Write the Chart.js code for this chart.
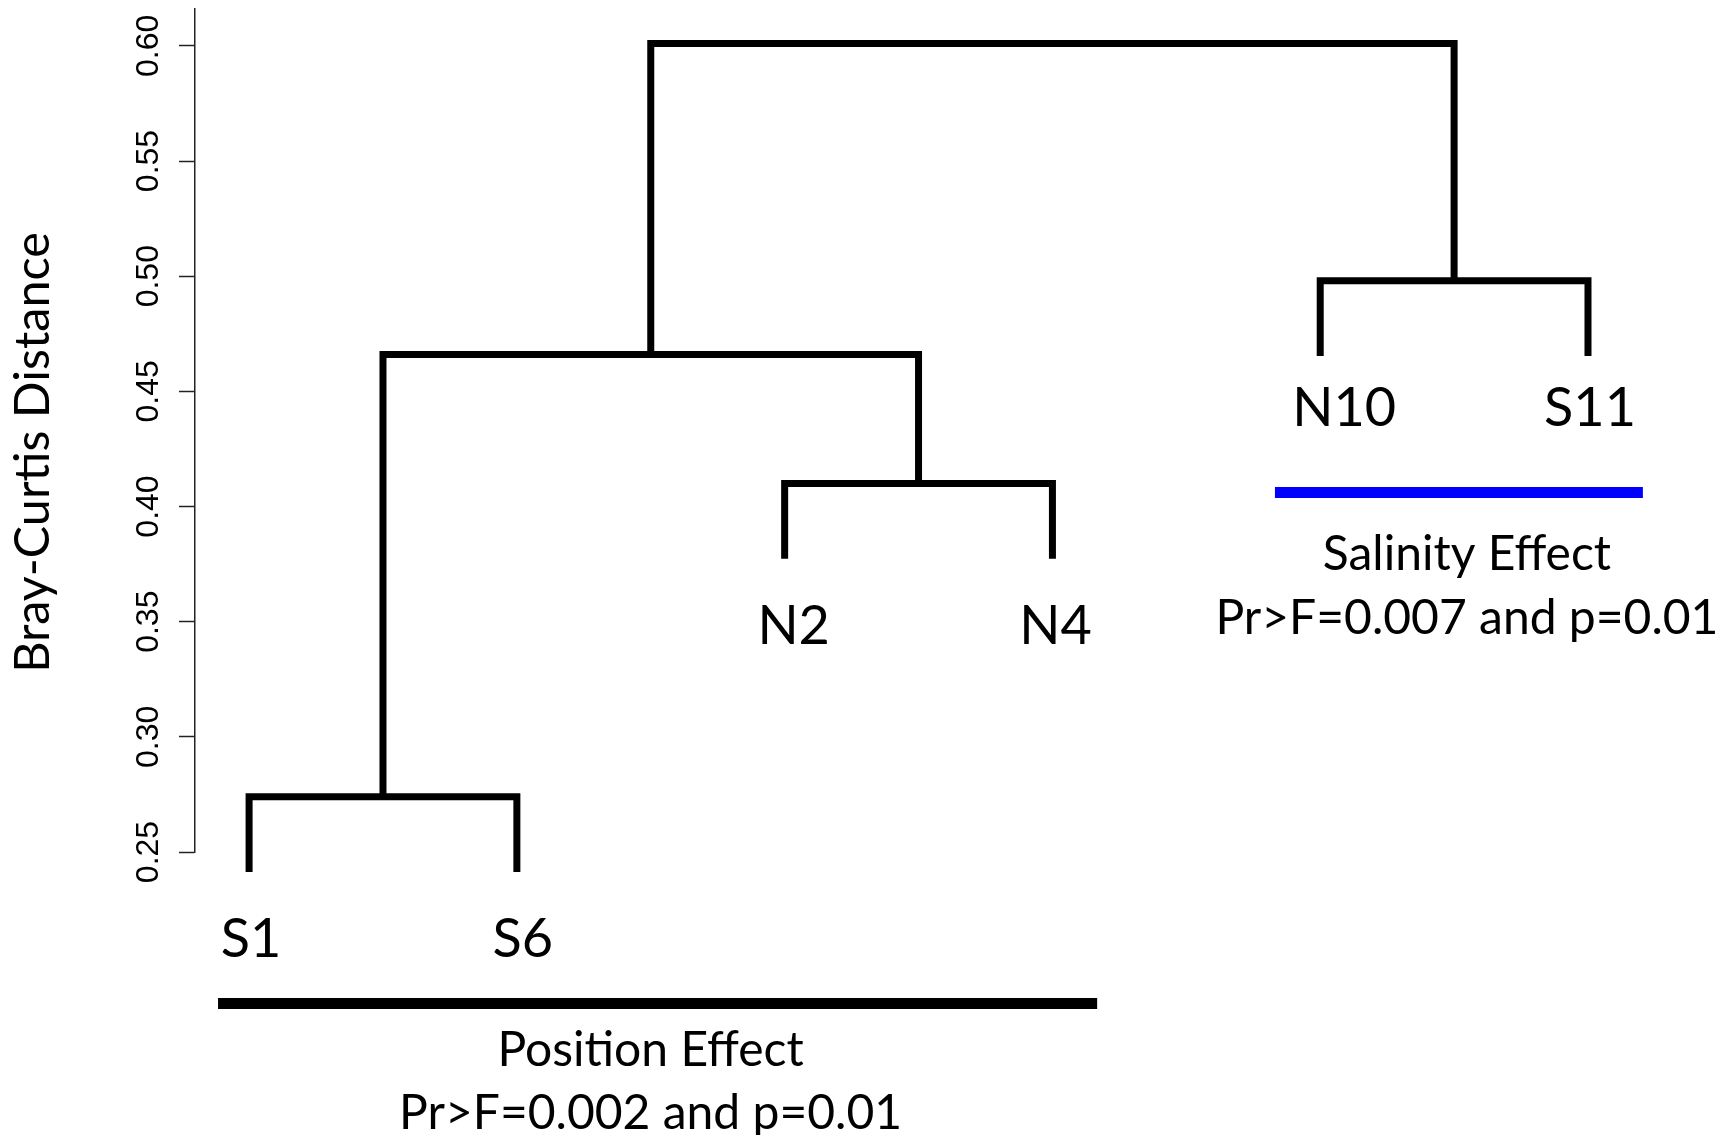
<!DOCTYPE html>
<html>
<head>
<meta charset="utf-8">
<title>Bray-Curtis dendrogram</title>
<script src="https://cdn.jsdelivr.net/npm/chart.js@4.4.1/dist/chart.umd.min.js"></script>
<style>
  html, body { margin: 0; padding: 0; background: #fff; }
  canvas { display: block; }
</style>
</head>
<body>
<canvas id="dendro" width="1735" height="1135"></canvas>
<script>
// leaves in plotting order, left to right
const leafLabels = ['S1', 'S6', 'N2', 'N4', 'N10', 'S11'];
// hclust style merge table: negative = leaf number, positive = earlier merge row
const mergePairs = [[-1, -2], [-3, -4], [-5, -6], [1, 2], [4, 3]];
const mergeHeights = [0.274, 0.410, 0.498, 0.466, 0.601];
const hang = 0.1; // plot.hclust default

const yTicks = [0.25, 0.30, 0.35, 0.40, 0.45, 0.50, 0.55, 0.60];

// groups marked under the tree
const effectNames = ['Position Effect', 'Salinity Effect'];
const effectStats = ['Pr>F=0.002 and p=0.01', 'Pr>F=0.007 and p=0.01'];
const effectFirst = ['S1', 'N10'];
const effectLast = ['N4', 'S11'];
const effectColors = ['#000000', '#0000ff'];

// ---- styling / placement (pixels unless noted)
const textFont = 'Lato, "Open Sans", sans-serif';
const effectLayout = [
    { padL: 0.116, padR: 0.167, drop: 0.0571, dx: -7, nameDy: 62, statDy: 63 },
    { padL: 0.169, padR: 0.205, drop: 0.0592, dx: 8, nameDy: 78, statDy: 64 }
];
const labelGap = 85;
const labelNudge = { S1: [2, 0], S6: [6, 0], N2: [9, 0], N4: [3, 0], N10: [24, -15], S11: [2, -15] };

// build the tree segments the way plot.hclust does
const hangDist = hang * (Math.max(...mergeHeights) - Math.min(...mergeHeights));
const nodeX = [];
const leafBottom = [];
const treeSets = [];
mergePairs.forEach((pair, i) => {
    let h = mergeHeights[i];
    let ends = pair.map(id => {
        if (id < 0) {
            leafBottom[-id - 1] = h - hangDist;
            return { x: -id, y: h - hangDist };
        }
        return { x: nodeX[id - 1], y: mergeHeights[id - 1] };
    });
    nodeX[i] = (ends[0].x + ends[1].x) / 2;
    treeSets.push({
        data: [ends[0], { x: ends[0].x, y: h }, { x: ends[1].x, y: h }, ends[1]],
        borderColor: '#000',
        borderWidth: 7,
        borderJoinStyle: 'miter',
        borderCapStyle: 'butt',
        pointRadius: 0,
        tension: 0,
        clip: false
    });
});

const barStart = [], barEnd = [], barLevel = [];
const barSets = effectNames.map((name, k) => {
    let a = leafLabels.indexOf(effectFirst[k]);
    let b = leafLabels.indexOf(effectLast[k]);
    let low = Math.min(...leafBottom.slice(a, b + 1));
    barStart[k] = a + 1 - effectLayout[k].padL;
    barEnd[k] = b + 1 + effectLayout[k].padR;
    barLevel[k] = low - effectLayout[k].drop;
    return {
        data: [{ x: barStart[k], y: barLevel[k] }, { x: barEnd[k], y: barLevel[k] }],
        borderColor: effectColors[k],
        borderWidth: 11,
        borderCapStyle: 'butt',
        pointRadius: 0,
        clip: false
    };
});

const annotate = {
    id: 'annotate',
    afterDatasetsDraw(chart) {
        let ctx = chart.ctx;
        let x = chart.scales.x, y = chart.scales.y;
        let area = chart.chartArea;
        ctx.save();
        ctx.fillStyle = '#000';
        ctx.textAlign = 'center';
        ctx.textBaseline = 'alphabetic';
        ctx.font = '54px ' + textFont;
        leafLabels.forEach((lab, i) => {
            let n = labelNudge[lab] || [0, 0];
            ctx.fillText(lab, x.getPixelForValue(i + 1) + n[0], y.getPixelForValue(leafBottom[i]) + labelGap + n[1]);
        });
        ctx.font = '48px ' + textFont;
        effectNames.forEach((name, k) => {
            let L = effectLayout[k];
            let cx = (x.getPixelForValue(barStart[k]) + x.getPixelForValue(barEnd[k])) / 2 + L.dx;
            let by = y.getPixelForValue(barLevel[k]);
            ctx.fillText(name, cx, by + L.nameDy);
            ctx.fillText(effectStats[k], cx, by + L.nameDy + L.statDy);
        });
        // y axis title
        ctx.font = '48.5px ' + textFont;
        ctx.translate(33, (area.top + area.bottom) / 2 + 22);
        ctx.rotate(-Math.PI / 2);
        ctx.textBaseline = 'middle';
        ctx.fillText('Bray-Curtis Distance', 0, 0);
        ctx.restore();
    }
};

function draw() {
    new Chart(document.getElementById('dendro'), {
        type: 'line',
        data: { datasets: [...treeSets, ...barSets] },
        options: {
            responsive: false,
            animation: false,
            events: [],
            layout: { padding: { top: 9, bottom: 283, left: 0, right: 0 } },
            plugins: { legend: { display: false }, tooltip: { enabled: false } },
            scales: {
                x: { type: 'linear', display: false, min: 0.798, max: 6.549 },
                y: {
                    type: 'linear',
                    position: 'left',
                    min: 0.25,
                    max: 0.616,
                    afterFit: s => { s.width = 195; s.paddingTop = 0; s.paddingBottom = 0; },
                    afterBuildTicks: s => { s.ticks = yTicks.map(v => ({ value: v })); },
                    border: { display: true, color: '#222', width: 1.5 },
                    grid: { drawOnChartArea: false, drawTicks: true, tickLength: 16, tickWidth: 1.5, tickColor: '#222' },
                    ticks: {
                        autoSkip: false,
                        minRotation: 90,
                        maxRotation: 90,
                        crossAlign: 'center',
                        padding: -1,
                        color: '#000',
                        font: { family: '"Liberation Sans", Arial, sans-serif', size: 32 },
                        callback: v => v.toFixed(2)
                    }
                }
            }
        },
        plugins: [annotate]
    });
}

Promise.all([
    document.fonts.load('54px Lato'),
    document.fonts.load('32px "Liberation Sans"')
]).then(draw, draw);
</script>
</body>
</html>
